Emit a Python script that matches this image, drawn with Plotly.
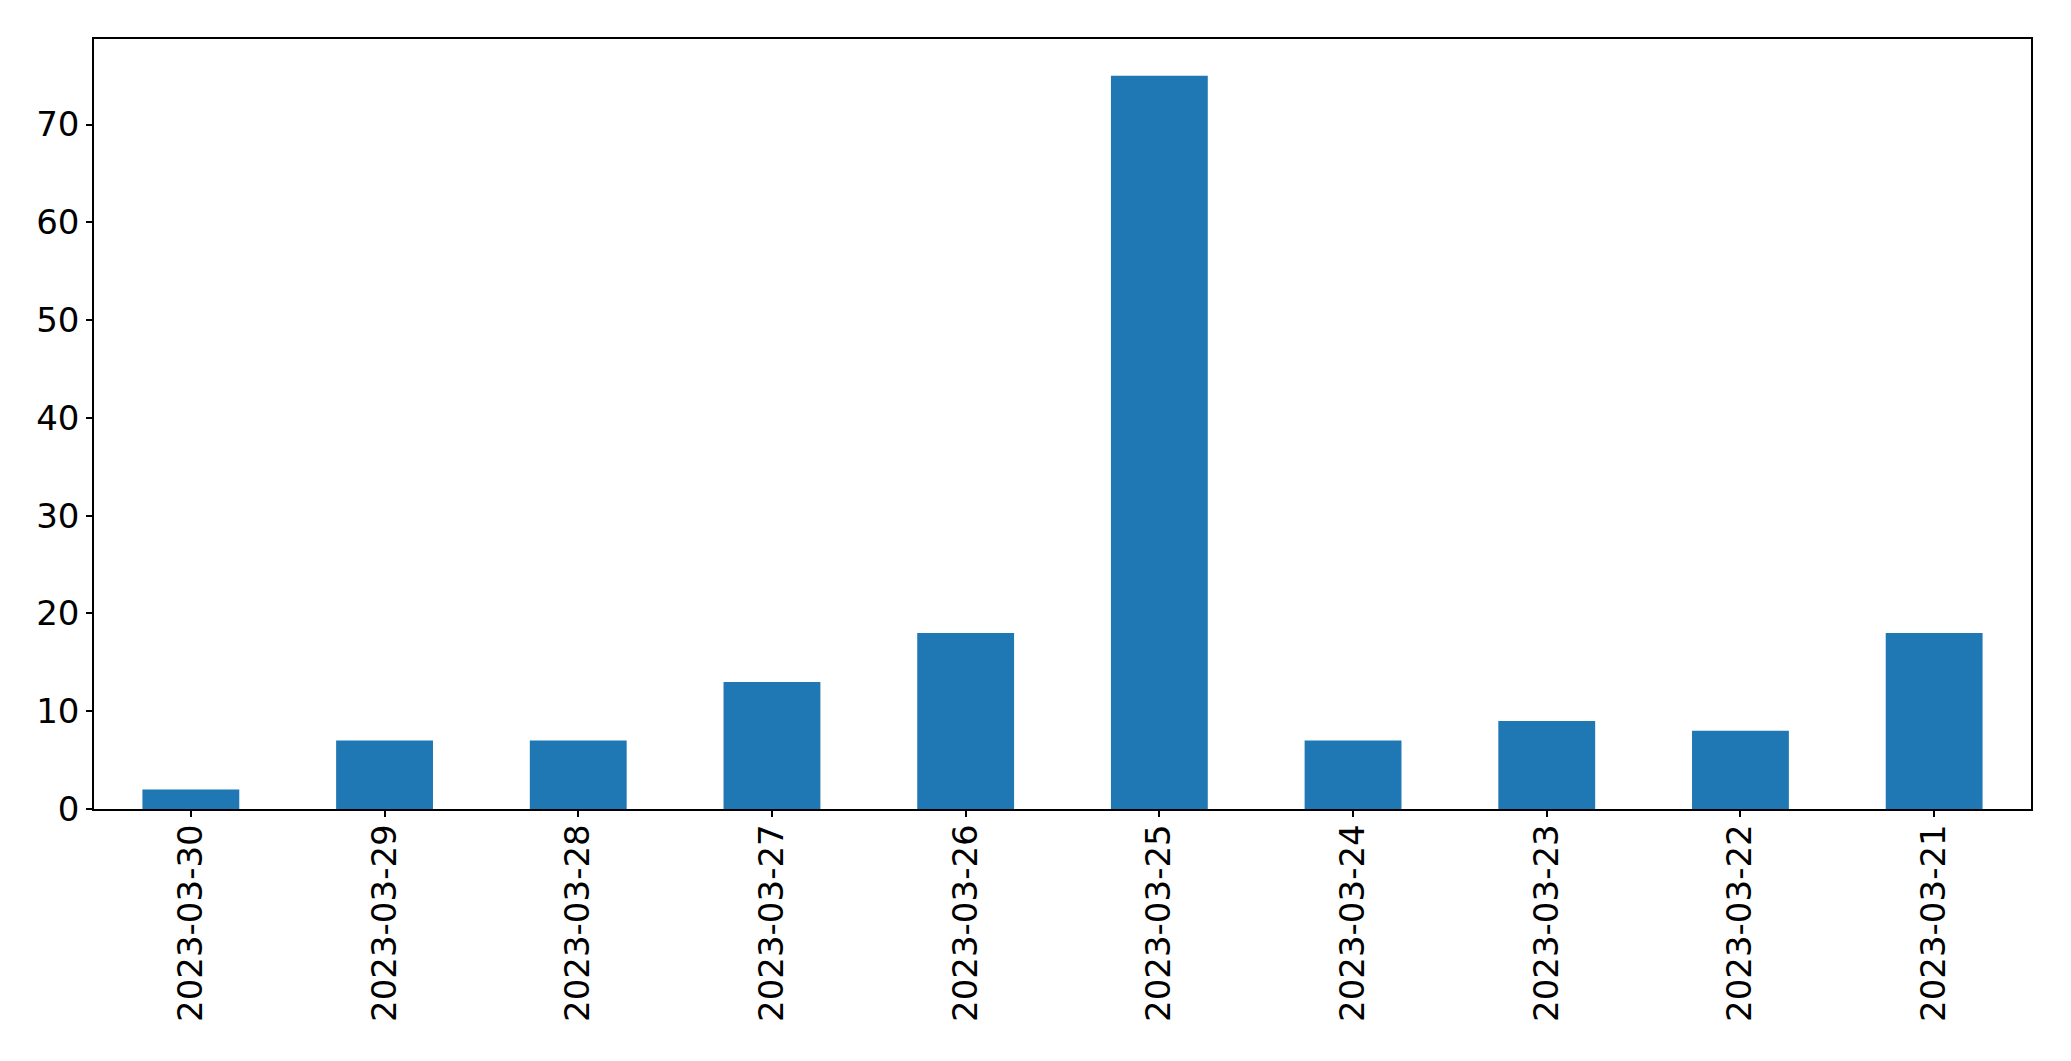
import plotly.graph_objects as go

dates = ["2023-03-30", "2023-03-29", "2023-03-28", "2023-03-27", "2023-03-26",
         "2023-03-25", "2023-03-24", "2023-03-23", "2023-03-22", "2023-03-21"]
counts = [2, 7, 7, 13, 18, 75, 7, 9, 8, 18]
y_ticks = [0, 10, 20, 30, 40, 50, 60, 70]

fig = go.Figure(go.Bar(x=dates, y=counts, marker=dict(color="#1f77b4", line=dict(width=0)),
                       width=0.5))

fig.update_layout(
    width=2071, height=1061,
    margin=dict(l=86, r=48, t=31, b=260),
    paper_bgcolor="white", plot_bgcolor="white",
    font=dict(family="DejaVu Sans", size=34, color="black"),
    showlegend=False,
)
fig.update_xaxes(
    type="category", range=[-0.5, 9.5], tickangle=-90,
    showline=True, linecolor="black", linewidth=1.5, mirror=True,
    ticks="outside", ticklen=6, tickwidth=1.5, tickcolor="black",
    ticklabelstandoff=-6,
    showgrid=False, zeroline=False,
)
fig.update_yaxes(
    range=[0, 78.75], tickvals=y_ticks,
    showline=True, linecolor="black", linewidth=1.5, mirror=True,
    ticks="outside", ticklen=6, tickwidth=1.5, tickcolor="black",
    showgrid=False, zeroline=False,
)

fig.write_html("out.html")
